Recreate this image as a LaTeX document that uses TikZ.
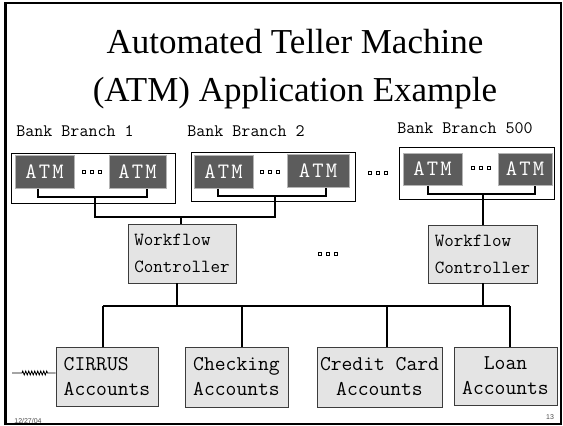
\documentclass[tikz,border=0pt]{standalone}
\usepackage{fontspec}
\setmainfont{Liberation Serif}
\newfontfamily\cour{Latin Modern Mono}
\newfontfamily\footsans{Liberation Sans}
\usetikzlibrary{decorations.pathmorphing}
\definecolor{atmfill}{HTML}{5C5C5C}
\definecolor{atmedge}{HTML}{B4B4B4}
\definecolor{boxfill}{HTML}{E4E4E4}
\definecolor{boxedge}{HTML}{3C3C3C}
\begin{document}
\begin{tikzpicture}[x=1pt,y=1pt,
  branchbox/.style={draw=black, line width=1pt, fill=white, inner sep=0pt},
  atmbox/.style={draw=atmedge, line width=1pt, fill=atmfill, inner sep=0pt,
    minimum height=33pt, text=white,
    font=\cour\fontsize{22}{22}\selectfont\addfontfeatures{LetterSpace=10}},
  wfbox/.style={draw=boxedge, line width=0.9pt, fill=boxfill, inner sep=0pt,
    align=left, font=\cour\fontsize{18.5}{27}\selectfont},
  accbox/.style={draw=boxedge, line width=0.9pt, fill=boxfill, inner sep=0pt,
    font=\cour\fontsize{21}{25}\selectfont},
  branchlabel/.style={inner sep=0pt, font=\cour\fontsize{17.5}{17.5}\selectfont},
  wire/.style={draw=black, line width=1.2pt},
  tridots/.pic={\foreach \i in {-8,0,8}
     \draw[line width=0.7pt, fill=white] (\i-1.8,-1.8) rectangle (\i+1.8,1.8);}
]
\useasboundingbox (0,0) rectangle (563,-426);

% slide frame
\draw[line width=1.5pt] (5,-3) rectangle (561,-424);
\draw[line width=3pt] (5,-2.5) -- (5,-424.5);

% title
\node[align=center, inner sep=0pt, font=\fontsize{35}{48}\selectfont] (title) at (295,-69)
  {Automated Teller Machine\\(ATM) Application Example};

% branch labels
\node[branchlabel] (lb1) at (75,-131) {Bank Branch 1};
\node[branchlabel] (lb2) at (246,-131) {Bank Branch 2};
\node[branchlabel] (lb3) at (465,-128) {Bank Branch 500};

% branch boxes
\node[branchbox, minimum width=164pt, minimum height=50pt] (b1) at (93,-178) {};
\node[branchbox, minimum width=164pt, minimum height=49pt] (b2) at (273,-176.5) {};
\node[branchbox, minimum width=155pt, minimum height=52pt] (b3) at (476.5,-173) {};

% ATMs
\node[atmbox, minimum width=59pt] (a1a) at (44.5,-171.5) {ATM};
\node[atmbox, minimum width=57pt] (a1b) at (137.5,-171.5) {ATM};
\node[atmbox, minimum width=59pt] (a2a) at (223.5,-171.5) {ATM};
\node[atmbox, minimum width=62pt] (a2b) at (318,-171) {ATM};
\node[atmbox, minimum width=59pt, minimum height=32pt] (a3a) at (432.5,-169) {ATM};
\node[atmbox, minimum width=54pt, minimum height=32pt] (a3b) at (525,-169) {ATM};

\pic at (92,-172) {tridots};
\pic at (270,-172) {tridots};
\pic at (378,-173) {tridots};
\pic at (481,-168) {tridots};
\pic at (328,-254) {tridots};

% workflow controllers
\node[wfbox, minimum width=108pt, minimum height=59pt] (wf1) at (182,-253.5) {Workflow\\Controller};
\node[wfbox, minimum width=109pt, minimum height=58pt] (wf2) at (482.5,-254) {Workflow\\Controller};

% account boxes
\node[accbox, align=left, minimum width=102pt, minimum height=59pt] (cir) at (107,-376.5) {CIRRUS\\Accounts};
\node[accbox, align=left, minimum width=103pt, minimum height=60pt] (chk) at (236.5,-377) {Checking\\Accounts};
\node[accbox, align=center, minimum width=125pt, minimum height=60pt] (ccd) at (379.5,-377) {Credit Card\\Accounts};
\node[accbox, align=center, minimum width=103pt, minimum height=58pt] (loan) at (505.5,-376) {Loan\\Accounts};

% bracket coordinates
\coordinate (c1l) at (38,-197);
\coordinate (c1r) at (147,-197);
\coordinate (j1) at (95,-197);
\coordinate (c2l) at (218,-196);
\coordinate (c2r) at (326,-196);
\coordinate (j2) at (275,-196);
\coordinate (c3l) at (428,-194);
\coordinate (c3r) at (535,-194);
\coordinate (j3) at (483,-194);
\coordinate (bus1) at (95,-217);
\coordinate (bus2) at (275,-217);
\coordinate (wf1t) at (181,-217);
\coordinate (busL) at (103,-306);
\coordinate (busR) at (510,-306);
\coordinate (wf1b) at (177,-306);
\coordinate (wf2b) at (483,-306);
\coordinate (d2) at (242,-306);
\coordinate (d3) at (387,-306);
\coordinate (zz) at (12,-373);

% brackets inside branches
\draw[wire] (a1a.south -| c1l) -- (c1l) -- (c1r) -- (a1b.south -| c1r);
\draw[wire] (a2a.south -| c2l) -- (c2l) -- (c2r) -- (a2b.south -| c2r);
\draw[wire] (a3a.south -| c3l) -- (c3l) -- (c3r) -- (a3b.south -| c3r);

% branch 1 & 2 to controller 1
\draw[wire] (j1) -- (bus1) -- (bus2) -- (j2);
\draw[wire] (wf1t) -- (wf1.north -| wf1t);
% branch 500 to controller 2
\draw[wire] (j3) -- (wf2.north -| j3);

% controllers to accounts
\draw[wire] (wf1.south -| wf1b) -- (wf1b);
\draw[wire] (wf2.south -| wf2b) -- (wf2b);
\draw[wire] (busL) -- (busR);
\draw[wire] (busL) -- (cir.north -| busL);
\draw[wire] (d2) -- (chk.north -| d2);
\draw[wire] (d3) -- (ccd.north -| d3);
\draw[wire] (busR) -- (loan.north -| busR);

% zigzag into CIRRUS
\draw[line width=0.8pt, decorate, decoration={zigzag, segment length=3pt, amplitude=2pt, pre length=10pt, post length=7pt}]
  (zz) -- (cir.west |- zz);

% footer
\node[inner sep=0pt, font=\footsans\fontsize{7}{7}\selectfont, text=black!70] (date) at (28,-421) {12/27/04};
\node[inner sep=0pt, font=\footsans\fontsize{7}{7}\selectfont, text=black!70] (pg) at (550,-417) {13};
\end{tikzpicture}
\end{document}
